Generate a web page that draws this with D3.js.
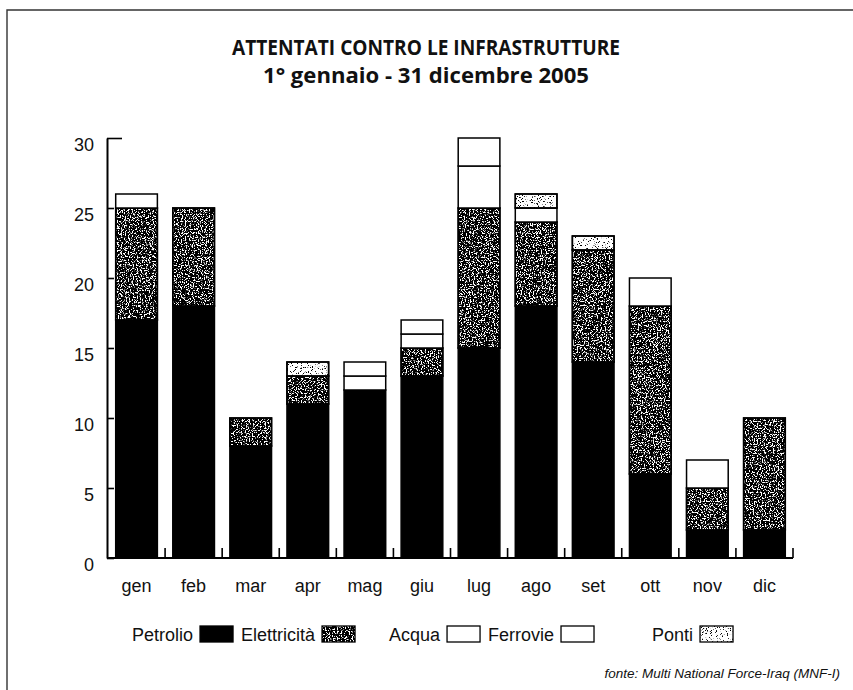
<!DOCTYPE html>
<html>
<head>
<meta charset="utf-8">
<script src="https://cdn.jsdelivr.net/npm/d3@7"></script>
<style>
  html, body { margin: 0; padding: 0; background: #fff; }
  svg { display: block; }
  text { font-family: "Liberation Sans", Arial, sans-serif; fill: #111; }
</style>
</head>
<body>
<svg id="chart" width="853" height="690"></svg>
<script>
// Monthly attacks on infrastructure, 2005
const months = ["gen","feb","mar","apr","mag","giu","lug","ago","set","ott","nov","dic"];
const petrolio    = [17, 18, 8, 11, 12, 13, 15, 18, 14, 6, 2, 2];
const elettricita = [ 8,  7, 2,  2,  0,  2, 10,  6,  8, 12, 3, 8];
const acqua       = [ 1,  0, 0,  0,  1,  1,  3,  1,  0,  2, 2, 0];
const ferrovie    = [ 0,  0, 0,  0,  1,  1,  2,  0,  0,  0, 0, 0];
const ponti       = [ 0,  0, 0,  1,  0,  0,  0,  1,  1,  0, 0, 0];
const seriesNames = ["Petrolio", "Elettricità", "Acqua", "Ferrovie", "Ponti"];
const yTicks = [0, 5, 10, 15, 20, 25, 30];
const title1 = "ATTENTATI CONTRO LE INFRASTRUTTURE";
const title2 = "1° gennaio - 31 dicembre 2005";
const source = "fonte: Multi National Force-Iraq (MNF-I)";

const svg = d3.select("#chart");
const W = 853, H = 690;

// grain textures
const defs = svg.append("defs");
function grain(id, threshold, freq, seed) {
  const f = defs.append("filter").attr("id", id)
    .attr("color-interpolation-filters", "sRGB")
    .attr("x", 0).attr("y", 0).attr("width", 1).attr("height", 1);
  f.append("feTurbulence").attr("type", "fractalNoise")
    .attr("baseFrequency", freq).attr("numOctaves", 2).attr("seed", seed).attr("result", "n");
  const k = 12;
  f.append("feColorMatrix").attr("in", "n").attr("type", "matrix")
    .attr("values", `0 0 0 0 0  0 0 0 0 0  0 0 0 0 0  ${-k} 0 0 0 ${k * threshold}`)
    .attr("result", "dots");
  f.append("feComposite").attr("in", "dots").attr("in2", "SourceGraphic").attr("operator", "in");
}
grain("grainDark", 0.61, 0.75, 4);
grain("grainLight", 0.39, 0.8, 9);

const styles = [
  { fill: "#000", grain: null },
  { fill: "#fff", grain: "grainDark" },
  { fill: "#fff", grain: null },
  { fill: "#fff", grain: null },
  { fill: "#fff", grain: "grainLight" }
];

// frame
svg.append("path").attr("d", `M7,${H} V10 H${W}`)
  .attr("fill", "none").attr("stroke", "#333").attr("stroke-width", 1.4);

// titles
svg.append("text").attr("x", 426).attr("y", 55).attr("text-anchor", "middle")
  .style("font-family", "'Open Sans', sans-serif").style("font-weight", 700).style("font-size", "21px")
  .attr("textLength", 388).attr("lengthAdjust", "spacingAndGlyphs").text(title1);
svg.append("text").attr("x", 426).attr("y", 83).attr("text-anchor", "middle")
  .style("font-family", "'Open Sans', sans-serif").style("font-weight", 700).style("font-size", "21px")
  .attr("textLength", 326).attr("lengthAdjust", "spacingAndGlyphs").text(title2);

// scales
const x = d3.scaleBand().domain(months).range([108, 793]).paddingInner(0.27).paddingOuter(0.135);
const y = d3.scaleLinear().domain([0, 30]).range([558, 138]);

const data = months.map((m, i) => ({
  month: m,
  Petrolio: petrolio[i], "Elettricità": elettricita[i], Acqua: acqua[i],
  Ferrovie: ferrovie[i], Ponti: ponti[i]
}));
const stacked = d3.stack().keys(seriesNames)(data);

const bars = svg.append("g");
stacked.forEach((layer, li) => {
  const st = styles[li];
  const g = bars.append("g");
  const segs = layer.map((d, i) => ({ y0: d[0], y1: d[1], m: months[i] })).filter(d => d.y1 > d.y0);
  g.selectAll("rect.base").data(segs).join("rect")
    .attr("x", d => x(d.m)).attr("width", x.bandwidth())
    .attr("y", d => y(d.y1)).attr("height", d => y(d.y0) - y(d.y1))
    .attr("fill", st.fill).attr("stroke", "#000").attr("stroke-width", 1.5);
  if (st.grain) {
    g.selectAll("rect.gr").data(segs).join("rect")
      .attr("x", d => x(d.m)).attr("width", x.bandwidth())
      .attr("y", d => y(d.y1)).attr("height", d => y(d.y0) - y(d.y1))
      .attr("fill", "#000").attr("filter", `url(#${st.grain})`);
    g.selectAll("rect.ol").data(segs).join("rect")
      .attr("x", d => x(d.m)).attr("width", x.bandwidth())
      .attr("y", d => y(d.y1)).attr("height", d => y(d.y0) - y(d.y1))
      .attr("fill", "none").attr("stroke", "#000").attr("stroke-width", 1.5);
  }
});

// y axis
const yAxis = svg.append("g").attr("transform", "translate(107,0)")
  .call(d3.axisLeft(y).tickValues(yTicks).tickSizeInner(-7).tickSizeOuter(0).tickPadding(13));
yAxis.select(".domain").attr("stroke", "#000").attr("stroke-width", 2);
yAxis.selectAll(".tick line").attr("stroke", "#000").attr("stroke-width", 1.6)
  .attr("x2", d => d === 30 ? 15 : 7);
yAxis.selectAll(".tick text").style("font-family", "'Liberation Sans', Arial, sans-serif")
  .style("font-size", "18px").attr("fill", "#111").attr("dy", "0.95em").attr("y", -5);

// x axis
const xAxis = svg.append("g").attr("transform", "translate(0,558)")
  .call(d3.axisBottom(x).tickSize(0).tickPadding(21));
xAxis.select(".domain").attr("d", "M107,0H793").attr("stroke", "#000").attr("stroke-width", 2);
xAxis.selectAll(".tick text").style("font-family", "'Liberation Sans', Arial, sans-serif")
  .style("font-size", "18px").attr("fill", "#111");
// boundary ticks between the months
const bounds = d3.range(1, months.length + 1).map(i => x.range()[0] + i * x.step());
xAxis.selectAll("line.bound").data(bounds).join("line").attr("class", "bound")
  .attr("x1", d => d).attr("x2", d => d).attr("y1", 0).attr("y2", -10)
  .attr("stroke", "#000").attr("stroke-width", 1.6);

// legend: label followed by its swatch
const legendTextX = [132, 241, 389, 488, 652];
const legend = svg.append("g").attr("transform", "translate(0,641)");
seriesNames.forEach((name, i) => {
  const t = legend.append("text").attr("x", legendTextX[i]).attr("y", 0)
    .style("font-size", "18px").text(name);
  const sx = legendTextX[i] + t.node().getComputedTextLength() + 7;
  legend.append("rect").attr("x", sx).attr("y", -15).attr("width", 33).attr("height", 16)
    .attr("fill", styles[i].fill).attr("stroke", "#000").attr("stroke-width", 1.3);
  if (styles[i].grain) {
    legend.append("rect").attr("x", sx).attr("y", -15).attr("width", 33).attr("height", 16)
      .attr("fill", "#000").attr("filter", `url(#${styles[i].grain})`);
  }
});

// source
svg.append("text").attr("x", 840).attr("y", 678).attr("text-anchor", "end")
  .style("font-size", "13.5px").style("font-style", "italic").text(source);
</script>
</body>
</html>
